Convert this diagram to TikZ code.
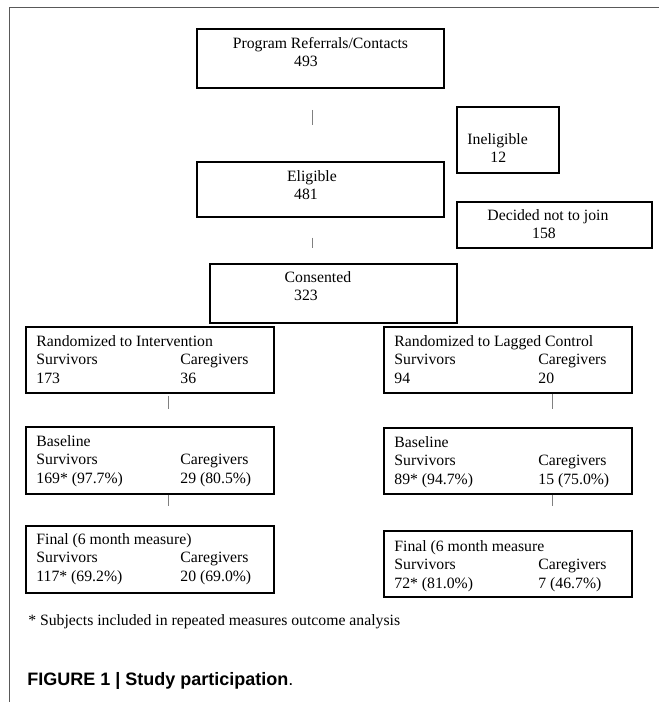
\documentclass[tikz,border=0pt]{standalone}
\usepackage{fontspec}
\setmainfont{Liberation Serif}
\setsansfont{Liberation Sans}
\usetikzlibrary{positioning}

\newlength{\pxu}\setlength{\pxu}{0.75pt}
% box contents: height, width, text (first baseline set by a strut)
\newcommand{\midtext}[4][19.5]{\parbox[c][#2\pxu][t]{#3\pxu}{\centering\rule{0pt}{#1\pxu}#4}}
\newcommand{\lefttext}[4][19.5]{\parbox[c][#2\pxu][t]{#3\pxu}{\raggedright\leftskip=10.5\pxu\rule{0pt}{#1\pxu}#4}}
\newcommand{\twocol}[2]{\makebox[144\pxu][l]{#1}#2}
\newcommand{\nudge}[1]{\hspace*{#1\pxu}\null}

\begin{document}
\begin{tikzpicture}[x=0.75pt, y=-0.75pt, node distance=30\pxu,
  flowbox/.style={draw, line width=1.4pt, inner sep=0pt, anchor=north west, font=\fontsize{11.8pt}{13.9pt}\selectfont},
  link/.style={draw=gray, line width=0.7pt}]
\useasboundingbox (0,0) rectangle (659,702);
\draw[draw=black!65, line width=0.7pt] (9,702) -- (9,7.5) -- (659,7.5);

% screening
\node[flowbox] (prog) at (196,28) {\midtext{59}{247}{Program Referrals/Contacts\\493\nudge{29}}};
\node[flowbox, below=72\pxu of prog] (elig) {\midtext{55}{247}{Eligible\nudge{17}\\481\nudge{29}}};
\node[flowbox] (inel) at (456,106) {\lefttext[37.5]{66}{102}{Ineligible\\\hspace*{23\pxu}12}};
\node[flowbox] (decl) at (456,201) {\midtext[18.5]{46}{195}{Decided not to join\nudge{13}\\158\nudge{21}}};
\node[flowbox] (cons) at (209,263) {\midtext[18.5]{59}{247}{Consented\nudge{31}\\323\nudge{55}}};

% intervention arm
\node[flowbox] (randI) at (25,326) {\lefttext{66}{248}{Randomized to Intervention\\\twocol{Survivors}{Caregivers}\\\twocol{173}{36}}};
\node[flowbox, below=32\pxu of randI] (baseI) {\lefttext{67}{248}{Baseline\\\twocol{Survivors}{Caregivers}\\\twocol{169* (97.7\%)}{29 (80.5\%)}}};
\node[flowbox, below=30\pxu of baseI] (finI) {\lefttext[18.5]{67}{248}{Final (6 month measure)\\\twocol{Survivors}{Caregivers}\\\twocol{117* (69.2\%)}{20 (69.0\%)}}};

% lagged control arm
\node[flowbox] (randC) at (383,326) {\lefttext{66}{248}{Randomized to Lagged Control\\\twocol{Survivors}{Caregivers}\\\twocol{94}{20}}};
\node[flowbox, below=33\pxu of randC] (baseC) {\lefttext{66}{248}{Baseline\\\twocol{Survivors}{Caregivers}\\\twocol{89* (94.7\%)}{15 (75.0\%)}}};
\node[flowbox, below=35\pxu of baseC] (finC) {\lefttext[20.5]{66}{248}{Final (6 month measure\\\twocol{Survivors}{Caregivers}\\\twocol{72* (81.0\%)}{7 (46.7\%)}}};

\draw[link, shorten <=21\pxu, shorten >=36\pxu] ([xshift=-7.5\pxu]prog.south) -- ([xshift=-7.5\pxu]elig.north);
\draw[link, shorten <=20\pxu, shorten >=15\pxu] ([xshift=-7.5\pxu]elig.south) -- ([xshift=-20.5\pxu]cons.north);
\draw[link, shorten <=2\pxu, shorten >=17\pxu] ([xshift=19\pxu]randI.south) -- ([xshift=19\pxu]baseI.north);
\draw[link, shorten >=19\pxu] ([xshift=19\pxu]baseI.south) -- ([xshift=19\pxu]finI.north);
\draw[link, shorten >=18\pxu] ([xshift=45\pxu]randC.south) -- ([xshift=45\pxu]baseC.north);
\draw[link, shorten >=24\pxu] ([xshift=45\pxu]baseC.south) -- ([xshift=45\pxu]finC.north);

\node[anchor=base west, inner sep=0pt, font=\fontsize{11.8pt}{13.9pt}\selectfont] (note) at (28,625.5) {* Subjects included in repeated measures outcome analysis};
\node[anchor=base west, inner sep=0pt, font=\sffamily\fontsize{13.5pt}{16pt}\selectfont] (caption) at (27,685.5) {\textbf{FIGURE 1 | Study participation}.};
\end{tikzpicture}
\end{document}
